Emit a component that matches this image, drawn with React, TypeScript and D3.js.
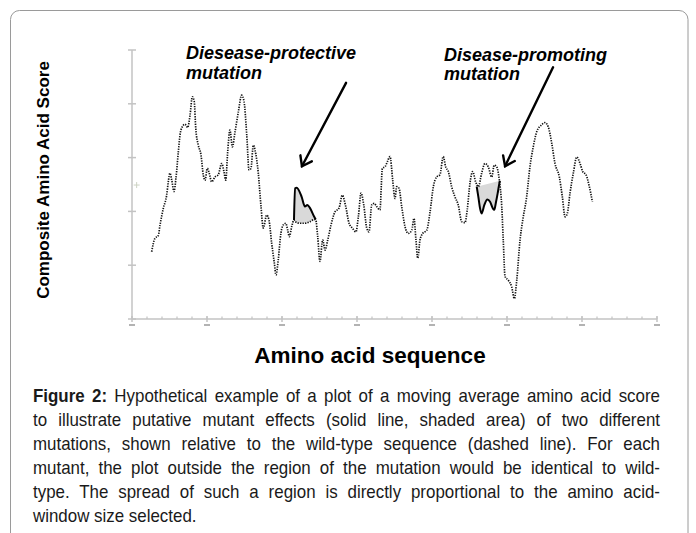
import * as d3 from 'd3';
import React, { useLayoutEffect, useRef, useState } from 'react';

// wild-type moving average score: [residue, score]
const wildType: [number, number][] = [
  [13.1, 1.25], [15.3, 1.5], [17.5, 1.55], [18.7, 1.75], [20.9, 2.06], [23.1, 2.3],
  [24.2, 2.55], [25.3, 2.71], [26.5, 2.58], [28, 2.37], [29.3, 2.62], [30.9, 3.11],
  [32, 3.42], [33.5, 3.57], [35.3, 3.62], [37.1, 3.56], [38.7, 3.79], [40.2, 4.13],
  [41.5, 4.04], [42.5, 3.54], [44.2, 3.23], [46, 3.05], [47.5, 2.68], [48.7, 2.58],
  [50.2, 2.8], [51.5, 2.71], [53.1, 2.55], [55.3, 2.64], [57.5, 2.68], [59.8, 2.89],
  [61.3, 2.74], [62.5, 2.58], [63.8, 3.11], [65.3, 3.51], [66.9, 3.2], [68.7, 3.48],
  [70.9, 3.85], [73.1, 4.16], [74.7, 4.04], [76.5, 3.42], [78, 2.77], [79.3, 2.8],
  [80.9, 3.23], [82, 3.14], [84.2, 2.71], [86, 2.09], [87.5, 1.69], [89.8, 1.93],
  [91.3, 1.84], [93.1, 1.41], [94.9, 1.04], [96, 0.82], [97.5, 1.1], [99.3, 1.6],
  [100.9, 1.75], [102.5, 1.78], [103.8, 1.65], [104.9, 1.53], [106.5, 1.72], [108, 1.84],
  [108.7, 1.81], [112, 1.78], [115.3, 1.78], [118.7, 1.81], [121.5, 1.85], [122.5, 1.84],
  [123.8, 1.53], [125.3, 1.07], [127.1, 1.47], [128.7, 1.28], [130.5, 1.47], [132.7, 1.75],
  [135.3, 1.99], [138, 2.06], [140.2, 2.3], [142.5, 2.09], [144.7, 1.78], [146.9, 1.69],
  [149.3, 1.62], [150.9, 1.9], [152.7, 2.34], [154.5, 2.12], [156.5, 1.69], [158, 1.62],
  [159.8, 2.12], [161.5, 2.15], [163.1, 2.09], [165.3, 2.03], [166.9, 2.8], [168.7, 2.83],
  [170.2, 2.92], [172, 3.02], [173.8, 2.58], [175.3, 2.24], [176.5, 2.46], [178, 2.43],
  [179.8, 2.09], [182, 1.72], [184.2, 1.59], [186.5, 1.65], [188, 1.87], [189.3, 1.47],
  [190.5, 1.13], [192, 1.47], [193.8, 1.59], [196.5, 1.65], [198.7, 1.99], [200.9, 2.46],
  [203.1, 2.64], [205.3, 2.68], [207.5, 3.02], [209.1, 2.83], [210.9, 2.74], [213.1, 2.46],
  [215.3, 2.27], [217.5, 2.12], [219.8, 1.81], [222, 1.79], [223.5, 2.03], [225.3, 2.52],
  [227.1, 2.74], [229.1, 2.55], [230.9, 2.46], [233.1, 2.71], [235.3, 2.89], [237.5, 2.83],
  [239.8, 2.64], [241.5, 2.86], [243.1, 2.83], [244.9, 2.58], [246.5, 2.09], [247.5, 1.47],
  [248.7, 0.79], [250.9, 0.72], [253.1, 0.6], [254.9, 0.38], [256.5, 0.72], [258.7, 1.47],
  [260.5, 1.84], [263.1, 2.27], [265.3, 2.83], [267.5, 3.2], [269.8, 3.48], [273.1, 3.61],
  [275.3, 3.65], [277.5, 3.57], [279.8, 3.27], [282, 2.89], [284.9, 2.64], [286.9, 2.27],
  [288.7, 1.9], [290.2, 1.96], [292, 2.34], [294.2, 2.71], [296.5, 3.01], [298.7, 2.89],
  [300.5, 2.74], [302.7, 2.68], [304.9, 2.46], [306.9, 2.18]
];

// mutant traces inside the two mutated regions
const protectiveMutant: [number, number][] = [
  [108, 1.84], [108.7, 2.43], [109.8, 2.44], [113.1, 2.27], [115.3, 2.09],
  [116.9, 2.12], [118.7, 2.06], [121.5, 1.9], [122.5, 1.85]
];
const promotingMutant: [number, number][] = [
  [229.8, 2.46], [230.9, 2.27], [232, 2.06], [233.1, 1.96], [234.9, 2.12], [236.9, 2.22],
  [238.7, 2.18], [240.5, 2.06], [241.5, 2.03], [242.7, 2.18], [243.8, 2.34], [244.9, 2.52],
  [245.3, 2.57]
];

// arrows: [tail, tip] in data units
const arrows: [[number, number], [number, number]][] = [
  [[142.7, 4.39], [113.3, 2.84]],
  [[280.7, 4.68], [248.7, 2.84]]
];

const yTicks = [0, 1, 2, 3, 4, 5];
const xMajor = d3.range(0, 351, 50);
const xMinor = d3.range(0, 351, 10);

const captionLines = [
  'Hypothetical example of a plot of a moving average amino acid score',
  'to illustrate putative mutant effects (solid line, shaded area) of two different',
  'mutations, shown relative to the wild-type sequence (dashed line). For each',
  'mutant, the plot outside the region of the mutation would be identical to wild-',
  'type. The spread of such a region is directly proportional to the amino acid-',
  'window size selected.'
];

const W = 696;
const H = 533;
const margin = { left: 132, right: 39, top: 50, bottom: 214 };

export default function App() {
  const captionRefs = useRef<(SVGTextElement | null)[]>([]);
  const [wordSpacing, setWordSpacing] = useState<number[]>(captionLines.map(() => 0));

  // narrow sans emulated by squeezing Liberation Sans horizontally
  const narrow = 0.94;
  const captionWidth = 627;

  // justify caption lines by stretching the space between words
  useLayoutEffect(() => {
    const spacing = captionLines.map((l, i) => {
      const el = captionRefs.current[i];
      if (!el || i === captionLines.length - 1) return 0;
      const natural = el.getComputedTextLength();
      const gaps = (i === 0 ? 'Figure 2: ' + l : l).split(' ').length - 1;
      return (captionWidth / narrow - natural) / gaps;
    });
    setWordSpacing(spacing);
  }, []);

  const x = d3.scaleLinear().domain([0, 350]).range([margin.left, W - margin.right]);
  const y = d3.scaleLinear().domain([0, 5]).range([H - margin.bottom, margin.top]);

  const line = d3
    .line<[number, number]>()
    .x((d) => x(d[0]))
    .y((d) => y(d[1]))
    .curve(d3.curveMonotoneX);

  const shadeLine = d3
    .line<[number, number]>()
    .x((d) => x(d[0]))
    .y((d) => y(d[1]))
    .curve(d3.curveLinearClosed);

  // shaded area 1: between mutant and wild type
  const x0 = protectiveMutant[0][0];
  const x1 = protectiveMutant[protectiveMutant.length - 1][0];
  const wtUnder = wildType.filter((d) => d[0] > x0 && d[0] < x1).reverse();
  const shade1 = shadeLine([...protectiveMutant, ...wtUnder]);
  const shade2 = shadeLine(promotingMutant);

  const axisColor = '#c3c3c3';
  const y0 = y(0);

  const arrowHead = (tail: [number, number], tip: [number, number]) => {
    const a = Math.atan2(tip[1] - tail[1], tip[0] - tail[0]);
    const len = 11;
    const ang = (36 * Math.PI) / 180;
    const p1 = [tip[0] - len * Math.cos(a - ang), tip[1] - len * Math.sin(a - ang)];
    const p2 = [tip[0] - len * Math.cos(a + ang), tip[1] - len * Math.sin(a + ang)];
    return `M${p1[0]},${p1[1]}L${tip[0]},${tip[1]}L${p2[0]},${p2[1]}`;
  };

  const labelFont = "'Liberation Sans', Arial, sans-serif";

  return (
    <svg
      width={W}
      height={H}
      style={{ position: 'absolute', left: 0, top: 0, background: '#fff' }}
    >
      {/* frame */}
      <rect x={10.5} y={10.5} width={677.5} height={600} rx={9} fill="none" stroke="#9a9a9a" strokeWidth={1} />

      {/* y axis */}
      <line x1={x(0)} x2={x(0)} y1={y(5)} y2={y0} stroke={axisColor} strokeWidth={1.5} />
      {yTicks.map((t) => (
        <line key={'yt' + t} x1={x(0) - 4} x2={x(0) + 4} y1={y(t)} y2={y(t)} stroke={axisColor} strokeWidth={1.5} />
      ))}
      <g stroke="#cdd3c4" strokeWidth={1}>
        <line x1={x(3.1) - 3} x2={x(3.1) + 3} y1={y(2.49)} y2={y(2.49)} />
        <line x1={x(3.1)} x2={x(3.1)} y1={y(2.49) - 3} y2={y(2.49) + 3} />
      </g>

      {/* x axis */}
      <line x1={x(0)} x2={x(350)} y1={y0} y2={y0} stroke={axisColor} strokeWidth={1.5} />
      {xMinor.map((t) => (
        <line key={'xm' + t} x1={x(t)} x2={x(t)} y1={y0 - 2.5} y2={y0} stroke={axisColor} strokeWidth={1.2} />
      ))}
      {xMajor.map((t) => (
        <g key={'xM' + t}>
          <line x1={x(t)} x2={x(t)} y1={y0 - 3} y2={y0 + 3} stroke={axisColor} strokeWidth={1.5} />
          <line x1={x(t) - 3} x2={x(t) + 3} y1={y0 + 6} y2={y0 + 6} stroke="#9a9a9a" strokeWidth={1.5} />
        </g>
      ))}

      {/* shaded mutant regions */}
      <path d={shade1 || ''} fill="#d9d9d9" stroke="none" />
      <path d={shade2 || ''} fill="#d9d9d9" stroke="none" />

      {/* wild-type */}
      <path d={line(wildType) || ''} fill="none" stroke="#111" strokeWidth={1.7} strokeDasharray="1.3 1.2" />

      {/* mutants */}
      <path d={line(protectiveMutant) || ''} fill="none" stroke="#000" strokeWidth={2} />
      <path d={line(promotingMutant) || ''} fill="none" stroke="#000" strokeWidth={2} />

      {/* arrows */}
      {arrows.map(([tail, tip], i) => {
        const t: [number, number] = [x(tail[0]), y(tail[1])];
        const p: [number, number] = [x(tip[0]), y(tip[1])];
        return (
          <g key={'ar' + i} stroke="#000" strokeWidth={2.4} fill="none" strokeLinecap="round">
            <line x1={t[0]} y1={t[1]} x2={p[0]} y2={p[1]} />
            <path d={arrowHead(t, p)} strokeLinejoin="miter" />
          </g>
        );
      })}

      {/* annotations */}
      <g fontFamily={labelFont} fontWeight="bold" fontStyle="italic" fontSize={18} fill="#000">
        <text x={186} y={58.5}>Diesease-protective</text>
        <text x={186} y={78.5}>mutation</text>
        <text x={444} y={60.5}>Disease-promoting</text>
        <text x={444} y={80}>mutation</text>
      </g>

      {/* axis titles */}
      <text
        transform={`translate(48.5,180) rotate(-90)`}
        textAnchor="middle"
        fontFamily={labelFont}
        fontWeight="bold"
        fontSize={17}
      >
        Composite Amino Acid Score
      </text>
      <text x={370} y={363} textAnchor="middle" fontFamily={labelFont} fontWeight="bold" fontSize={22.5}>
        Amino acid sequence
      </text>

      {/* caption */}
      <g transform={`translate(33,0) scale(${narrow},1)`} fontFamily={labelFont} fontSize={18} fill="#1a1a1a">
        {captionLines.map((l, i) => (
          <text
            key={'c' + i}
            ref={(el) => {
              captionRefs.current[i] = el;
            }}
            x={0}
            y={402 + i * 24}
            style={{ wordSpacing: `${wordSpacing[i]}px` }}
          >
            {i === 0 ? (
              <>
                <tspan fontWeight="bold">Figure 2:</tspan> {l}
              </>
            ) : (
              l
            )}
          </text>
        ))}
      </g>
    </svg>
  );
}
